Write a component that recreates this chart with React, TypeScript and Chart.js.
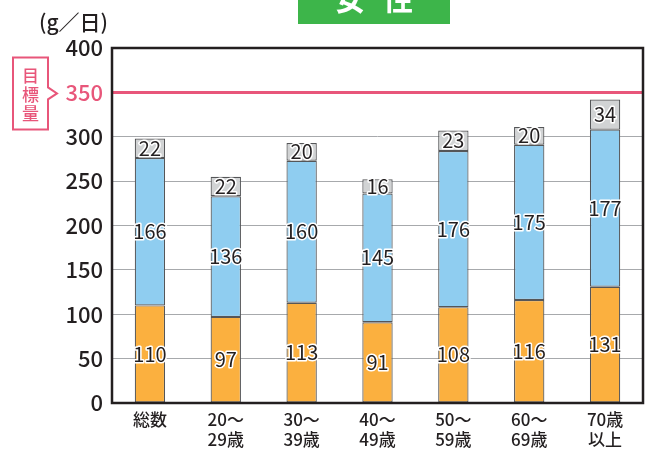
import React, { useEffect, useRef } from "react";
import { Chart, registerables } from "chart.js";

Chart.register(...registerables);

const categories: string[][] = [
  ["総数"],
  ["20～", "29歳"],
  ["30～", "39歳"],
  ["40～", "49歳"],
  ["50～", "59歳"],
  ["60～", "69歳"],
  ["70歳", "以上"],
];
const seriesBottom = [110, 97, 113, 91, 108, 116, 131];
const seriesMiddle = [166, 136, 160, 145, 176, 175, 177];
const seriesTop = [22, 22, 20, 16, 23, 20, 34];
const yTicks = { min: 0, max: 400, step: 50 };
const targetValue = 350;
const titleChars = ["女", "性"];
const unitText = "(g／日)";
const targetLabel = ["目", "標", "量"];

const PINK = "#e8567a";
const DARK = "#231f20";
const FONT = "'Noto Sans CJK JP', 'Noto Sans', sans-serif";

export default function App() {
  const ref = useRef<HTMLCanvasElement | null>(null);
  useEffect(() => {
    document.body.style.margin = "0";
    const canvas = ref.current!;
    const overlay = {
      id: "overlay",
      beforeDatasetsDraw(chart: any) {
        const { ctx, chartArea } = chart;
        const y = chart.scales.y.getPixelForValue(targetValue);
        ctx.save();
        ctx.strokeStyle = PINK;
        ctx.lineWidth = 3;
        ctx.beginPath();
        ctx.moveTo(chartArea.left, y);
        ctx.lineTo(chartArea.right, y);
        ctx.stroke();
        ctx.restore();
      },
      afterDatasetsDraw(chart: any) {
        const { ctx } = chart;
        ctx.save();
        ctx.font = `20px ${FONT}`;
        ctx.textAlign = "center";
        ctx.textBaseline = "middle";
        ctx.lineJoin = "round";
        chart.data.datasets.forEach((ds: any, di: number) => {
          const meta = chart.getDatasetMeta(di);
          meta.data.forEach((el: any, i: number) => {
            const cy = (el.y + el.base) / 2;
            const txt = String(ds.data[i]);
            ctx.strokeStyle = "#ffffff";
            ctx.lineWidth = 3;
            ctx.strokeText(txt, el.x, cy);
            ctx.fillStyle = DARK;
            ctx.fillText(txt, el.x, cy);
          });
        });
        ctx.restore();
      },
      afterDraw(chart: any) {
        const { ctx, chartArea } = chart;
        ctx.save();
        // plot frame
        ctx.strokeStyle = DARK;
        ctx.lineWidth = 2.5;
        ctx.strokeRect(chartArea.left, chartArea.top, chartArea.right - chartArea.left, chartArea.bottom - chartArea.top);

        // title box
        ctx.fillStyle = "#3db54a";
        ctx.fillRect(298, 0, 152, 24);
        ctx.fillStyle = "#ffffff";
        ctx.font = `bold 30px ${FONT}`;
        ctx.textAlign = "center";
        ctx.textBaseline = "middle";
        ctx.fillText(titleChars[0], 350, -1);
        ctx.fillText(titleChars[1], 398, -1);

        // unit
        ctx.fillStyle = DARK;
        ctx.font = `500 21px ${FONT}`;
        ctx.textAlign = "left";
        ctx.fillText(unitText, 39, 22);

        // target label
        const ty = chart.scales.y.getPixelForValue(targetValue);
        ctx.beginPath();
        ctx.moveTo(13, 57.5);
        ctx.lineTo(48, 57.5);
        ctx.lineTo(48, ty - 5);
        ctx.lineTo(57, ty + 1);
        ctx.lineTo(48, ty + 7);
        ctx.lineTo(48, 129.5);
        ctx.lineTo(13, 129.5);
        ctx.closePath();
        ctx.fillStyle = "#ffffff";
        ctx.fill();
        ctx.strokeStyle = PINK;
        ctx.lineWidth = 2;
        ctx.stroke();
        ctx.fillStyle = PINK;
        ctx.font = `500 17px ${FONT}`;
        ctx.textAlign = "center";
        targetLabel.forEach((c, i) => ctx.fillText(c, 30.5, 76 + i * 19));
        ctx.restore();
      },
    };

    const mk = (label: string, data: number[], color: string) => ({
      label,
      data,
      backgroundColor: color,
      borderColor: "#555658",
      borderWidth: 1.2,
      borderSkipped: false,
      barPercentage: 0.4,
      categoryPercentage: 1,
    });

    const chart = new Chart(canvas, {
      type: "bar",
      data: {
        labels: categories,
        datasets: [
          mk("bottom", seriesBottom, "#fbb03f"),
          mk("middle", seriesMiddle, "#8fcdf0"),
          mk("top", seriesTop, "#d1d3d4"),
        ],
      },
      options: {
        animation: false,
        responsive: true,
        maintainAspectRatio: false,
        layout: { padding: { top: 48, right: 4, left: 0, bottom: 0 } },
        plugins: { legend: { display: false }, tooltip: { enabled: false } },
        scales: {
          x: {
            stacked: true,
            grid: { display: false, drawTicks: false },
            border: { display: false },
            ticks: {
              color: DARK,
              padding: 7,
              font: { family: FONT, size: 17, weight: 500, lineHeight: 1.15 },
              maxRotation: 0,
              autoSkip: false,
            },
            afterFit: (s: any) => {
              s.height = 46;
            },
          },
          y: {
            stacked: true,
            min: yTicks.min,
            max: yTicks.max,
            grid: {
              drawTicks: false,
              color: (c: any) => (c.tick && c.tick.value === targetValue ? "rgba(0,0,0,0)" : "#a7a9ac"),
              lineWidth: 1,
            },
            border: { display: false },
            ticks: {
              stepSize: yTicks.step,
              padding: 9,
              color: (c: any) => (c.tick && c.tick.value === targetValue ? PINK : DARK),
              font: { family: FONT, size: 22, weight: 500 },
            },
            afterFit: (s: any) => {
              s.width = 112;
            },
          },
        },
      },
      plugins: [overlay],
    });
    return () => chart.destroy();
  }, []);

  return (
    <div style={{ position: "fixed", left: 0, top: 0, width: 647, height: 449, background: "#fff" }}>
      <canvas ref={ref} />
    </div>
  );
}
